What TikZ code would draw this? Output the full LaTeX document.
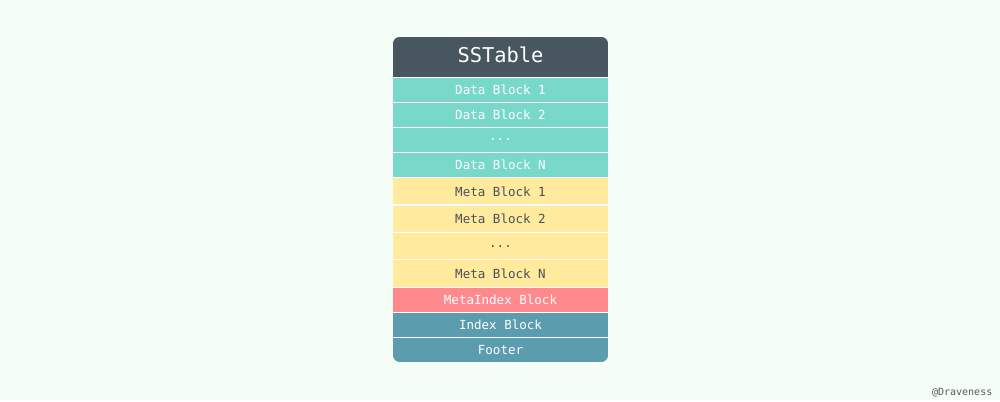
\documentclass[tikz,border=0pt]{standalone}
\usepackage{fontspec}
\setmonofont{DejaVu Sans Mono}
\usetikzlibrary{positioning}
\definecolor{bgmint}{HTML}{F4FDF6}
\definecolor{headgray}{HTML}{47565F}
\definecolor{datateal}{HTML}{78D8CA}
\definecolor{metayellow}{HTML}{FFEA9E}
\definecolor{metatext}{HTML}{4A5159}
\definecolor{indexred}{HTML}{FF8A8E}
\definecolor{indexblue}{HTML}{5B9CAE}
\definecolor{credittext}{HTML}{555B60}

\begin{document}
\begin{tikzpicture}[x=0.75pt,y=0.75pt]
  \tikzset{node distance=0mm,
           basicbox/.style={minimum width=161.25pt,minimum height=#1,inner sep=0pt,outer sep=0pt,
                            font=\ttfamily\fontsize{9.4}{11}\selectfont},
           capstext/.style={text height=0.73em,text depth=0pt},
           headbox/.style={basicbox=30.4pt,fill=headgray,text=white,font=\ttfamily\fontsize{15.3}{18}\selectfont},
           databox/.style={basicbox=18.75pt,fill=datateal,text=white},
           metabox/.style={basicbox=20.6pt,fill=metayellow,text=metatext},
           metaidxbox/.style={basicbox=18.75pt,fill=indexred,text=white},
           idxbox/.style={basicbox=#1,fill=indexblue,text=white},
           sepline/.style={white,line width=0.8pt}}
  \fill[bgmint] (0,0) rectangle (1000,400);

  \begin{scope}
  \clip[rounded corners=5pt] (393,363) rectangle (608,38);
  \coordinate (top) at (500.5,363);
  \node[headbox,capstext,below=of top] (sstable) {SSTable};
  \node[databox,capstext,below=of sstable] (data1) {Data Block 1};
  \node[databox,capstext,below=of data1] (data2) {Data Block 2};
  \node[databox,below=of data2] (datadots) {...};
  \node[databox,capstext,below=of datadots] (dataN) {Data Block N};
  \node[metabox,capstext,below=of dataN] (meta1) {Meta Block 1};
  \node[metabox,capstext,below=of meta1] (meta2) {Meta Block 2};
  \node[metabox,below=of meta2] (metadots) {...};
  \node[metabox,capstext,below=of metadots] (metaN) {Meta Block N};
  \node[metaidxbox,capstext,below=of metaN] (metaindex) {MetaIndex Block};
  \node[idxbox=18.75pt,capstext,below=of metaindex] (index) {Index Block};
  \node[idxbox=18.4pt,capstext,below=of index] (footer) {Footer};

  \foreach \n in {sstable,data1,data2,datadots,dataN,meta1,meta2,metadots,metaN,metaindex,index}
    \draw[sepline] (\n.south west) -- (\n.south east);
  \end{scope}

  \node[anchor=base east,text=credittext,font=\ttfamily\fontsize{7.5}{9}\selectfont] (credit) at (997,4) {@Draveness};
\end{tikzpicture}
\end{document}
